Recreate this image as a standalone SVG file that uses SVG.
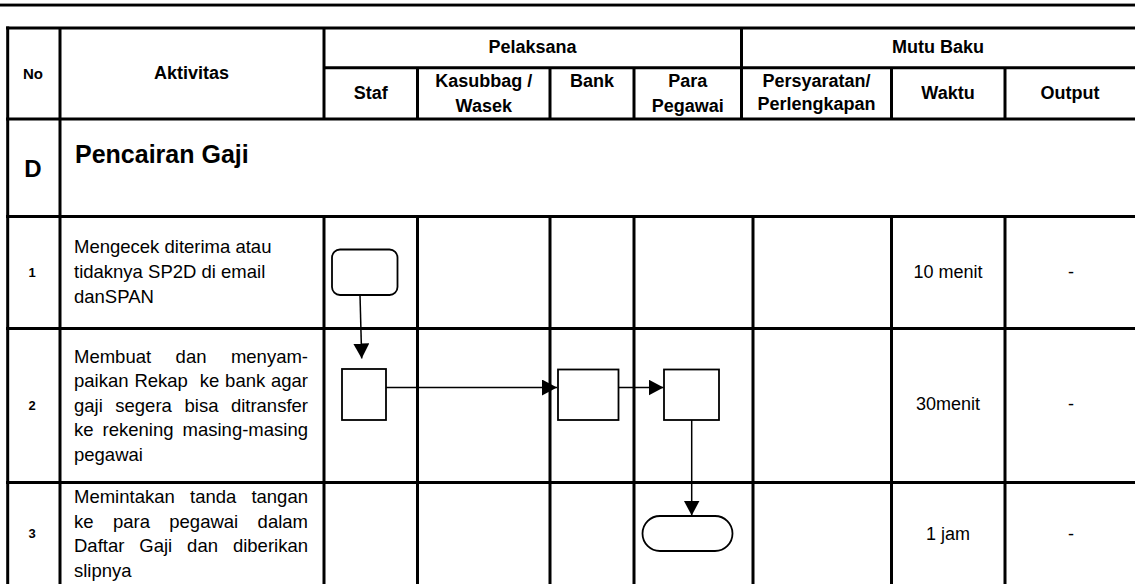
<svg xmlns="http://www.w3.org/2000/svg" width="1135" height="584" viewBox="0 0 1135 584">
<style>
.grid line{stroke:#000;stroke-width:3}
.hd{font-family:"Liberation Sans",Arial,sans-serif;font-weight:bold;font-size:18px;fill:#000;text-anchor:middle}
.num{font-family:"Liberation Sans",Arial,sans-serif;font-weight:bold;font-size:13px;fill:#000;text-anchor:middle}
.tx{font-family:"Liberation Sans",Arial,sans-serif;font-size:18.5px;fill:#000}
.tm{font-family:"Liberation Sans",Arial,sans-serif;font-size:18px;fill:#000;text-anchor:middle}
.end{text-anchor:end}
.shape{fill:#fff;stroke:#000;stroke-width:1.8}
.conn path{fill:none;stroke:#000;stroke-width:1.5}
</style>
<defs>
<marker id="arr" markerUnits="userSpaceOnUse" markerWidth="15" markerHeight="16" refX="15" refY="8" orient="auto">
<path d="M0,0 L15,8 L0,16 z" fill="#000"/>
</marker>
</defs>
<rect width="1135" height="584" fill="#fff"/>
<rect x="0" y="3" width="1135" height="1" fill="#999"/>
<rect x="0" y="4" width="1135" height="2.5" fill="#000"/>

<g id="table" class="grid">
<line x1="6" y1="28" x2="1135" y2="28"/>
<line x1="324" y1="67.7" x2="1135" y2="67.7"/>
<line x1="6" y1="119" x2="1135" y2="119"/>
<line x1="6" y1="216.5" x2="1135" y2="216.5"/>
<line x1="6" y1="328.5" x2="1135" y2="328.5"/>
<line x1="6" y1="482.5" x2="1135" y2="482.5"/>
<line x1="7.7" y1="26.5" x2="7.7" y2="584"/>
<line x1="60" y1="28" x2="60" y2="584"/>
<line x1="324" y1="28" x2="324" y2="119"/>
<line x1="324" y1="216.5" x2="324" y2="584"/>
<line x1="417.5" y1="67.7" x2="417.5" y2="119"/>
<line x1="417.5" y1="216.5" x2="417.5" y2="584"/>
<line x1="550" y1="67.7" x2="550" y2="119"/>
<line x1="550" y1="216.5" x2="550" y2="584"/>
<line x1="634" y1="67.7" x2="634" y2="119"/>
<line x1="634" y1="216.5" x2="634" y2="584"/>
<line x1="741.5" y1="28" x2="741.5" y2="119"/>
<line x1="753" y1="216.5" x2="753" y2="584"/>
<line x1="891.5" y1="67.7" x2="891.5" y2="119"/>
<line x1="891.5" y1="216.5" x2="891.5" y2="584"/>
<line x1="1005" y1="67.7" x2="1005" y2="119"/>
<line x1="1005" y1="216.5" x2="1005" y2="584"/>
</g>

<g id="header">
<text class="hd" x="33" y="79" style="font-size:15px">No</text>
<text class="hd" x="191.5" y="79">Aktivitas</text>
<text class="hd" x="532.5" y="53">Pelaksana</text>
<text class="hd" x="938" y="53">Mutu Baku</text>
<text class="hd" x="370.8" y="99">Staf</text>
<text class="hd" x="483.8" y="87">Kasubbag /</text>
<text class="hd" x="483.8" y="111.5">Wasek</text>
<text class="hd" x="592" y="87">Bank</text>
<text class="hd" x="687.8" y="87">Para</text>
<text class="hd" x="687.8" y="111.5">Pegawai</text>
<text class="hd" x="816.5" y="87">Persyaratan/</text>
<text class="hd" x="816.5" y="110">Perlengkapan</text>
<text class="hd" x="948" y="99">Waktu</text>
<text class="hd" x="1070" y="99">Output</text>
</g>

<g id="section">
<text class="hd" x="33" y="177" style="font-size:24px">D</text>
<text class="hd" x="75" y="163" style="font-size:25px;text-anchor:start">Pencairan Gaji</text>
</g>

<g id="row1">
<text class="num" x="32" y="277">1</text>
<text class="tx" x="74" y="253">Mengecek diterima atau</text>
<text class="tx" x="74" y="278">tidaknya SP2D di email</text>
<text class="tx" x="74" y="303">danSPAN</text>
<text class="tm" x="948" y="278">10 menit</text>
<text class="tm" x="1071" y="278">-</text>
</g>

<g id="row2">
<text class="num" x="32" y="410">2</text>
<text class="tx" y="362.5"><tspan x="74">Membuat</tspan><tspan x="175.6">dan</tspan></text>
<text class="tx end" x="308" y="362.5">menyam-</text>
<text class="tx" y="387"><tspan x="74">paikan</tspan><tspan x="134.4">Rekap</tspan><tspan x="199.7">ke</tspan><tspan x="225.1">bank</tspan></text>
<text class="tx end" x="308" y="387">agar</text>
<text class="tx" y="411.5"><tspan x="74">gaji</tspan><tspan x="115.3">segera</tspan><tspan x="184.5">bisa</tspan></text>
<text class="tx end" x="308" y="411.5">ditransfer</text>
<text class="tx" y="436"><tspan x="74">ke</tspan><tspan x="102.6">rekening</tspan></text>
<text class="tx end" x="308" y="436">masing-masing</text>
<text class="tx" x="74" y="460.5">pegawai</text>
<text class="tm" x="948" y="410">30menit</text>
<text class="tm" x="1071" y="410">-</text>
</g>

<g id="row3">
<text class="num" x="32" y="538">3</text>
<text class="tx" y="503"><tspan x="74">Memintakan</tspan><tspan x="190">tanda</tspan></text>
<text class="tx end" x="308" y="503">tangan</text>
<text class="tx" y="527.5"><tspan x="74">ke</tspan><tspan x="112.9">para</tspan><tspan x="169.3">pegawai</tspan></text>
<text class="tx end" x="308" y="527.5">dalam</text>
<text class="tx" y="552"><tspan x="74">Daftar</tspan><tspan x="139.3">Gaji</tspan><tspan x="187.1">dan</tspan></text>
<text class="tx end" x="308" y="552">diberikan</text>
<text class="tx" x="74" y="576.5">slipnya</text>
<text class="tm" x="948" y="540">1 jam</text>
<text class="tm" x="1071" y="540">-</text>
</g>

<g id="n1"><rect class="shape" x="332" y="249.5" width="65.5" height="45.5" rx="8"/></g>
<g id="n2"><rect class="shape" x="342" y="369" width="44" height="51"/></g>
<g id="n3"><rect class="shape" x="558" y="369.5" width="60.5" height="50.5"/></g>
<g id="n4"><rect class="shape" x="664" y="369.5" width="55" height="50.5"/></g>
<g id="n5"><rect class="shape" x="642.5" y="516" width="90" height="35" rx="17.5"/></g>

<g id="connectors" class="conn">
<path d="M360,295 L361.7,358.5" marker-end="url(#arr)"/>
<path d="M386,387.5 L557,387.5" marker-end="url(#arr)"/>
<path d="M618.5,387.5 L663.5,387.5" marker-end="url(#arr)"/>
<path d="M691.7,420 L691.7,515.5" marker-end="url(#arr)"/>
</g>
</svg>
